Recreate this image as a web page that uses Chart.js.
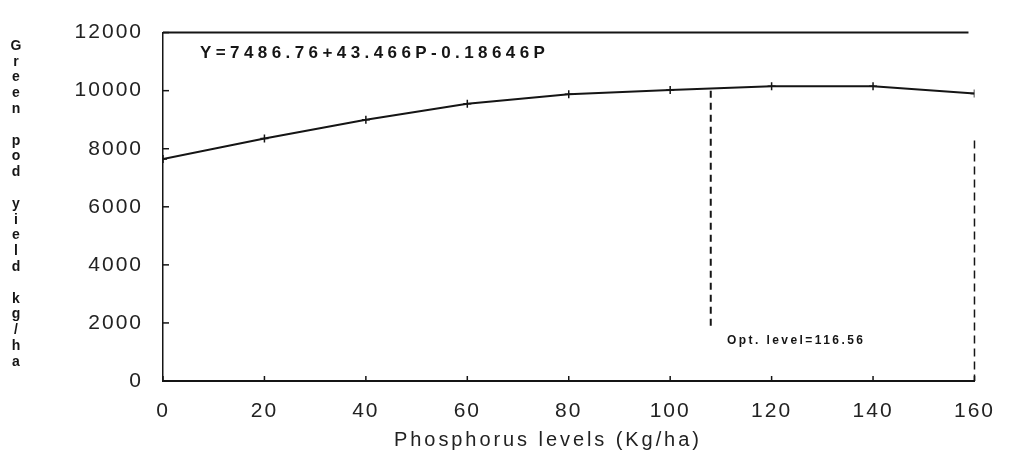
<!DOCTYPE html>
<html>
<head>
<meta charset="utf-8">
<script src="https://cdn.jsdelivr.net/npm/chart.js@4.4.1/dist/chart.umd.min.js"></script>
<style>
  html, body { margin: 0; padding: 0; background: #fff; }
  #wrap { width: 1010px; height: 457px; position: relative; }
</style>
</head>
<body>
<div id="wrap"><canvas id="c" width="1010" height="457"></canvas></div>
<script>
// ---- data ----
const phosphorusLevels = [0, 20, 40, 60, 80, 100, 120, 140, 160];
const yieldValues = [7650, 8350, 9000, 9550, 9880, 10020, 10150, 10150, 9900];
const optLineX = [108, 108];
const optLineY = [10000, 1900];
const xTickValues = [0, 20, 40, 60, 80, 100, 120, 140, 160];
const yTickValues = [0, 2000, 4000, 6000, 8000, 10000, 12000];
const equationText = 'Y=7486.76+43.466P-0.18646P';
const optText = 'Opt. level=116.56';
const xTitle = 'Phosphorus levels (Kg/ha)';
const yTitle = 'Green pod yield kg/ha';

const INK = '#151515';

const decor = {
  id: 'decor',
  beforeDraw(chart) {
    chart.ctx.letterSpacing = '2px';
  },
  afterDraw(chart) {
    const { ctx, chartArea: a, scales: { x, y } } = chart;
    ctx.save();
    ctx.letterSpacing = '0px';
    ctx.strokeStyle = INK;
    // top border
    ctx.lineWidth = 2;
    ctx.setLineDash([]);
    ctx.beginPath(); ctx.moveTo(a.left, a.top); ctx.lineTo(a.right - 6, a.top); ctx.stroke();
    // right border (dashed)
    ctx.lineWidth = 1.5;
    ctx.setLineDash([8, 5]);
    ctx.beginPath(); ctx.moveTo(a.right, a.top + 108); ctx.lineTo(a.right, a.bottom); ctx.stroke();
    ctx.setLineDash([]);
    // inward tick marks
    ctx.lineWidth = 1.5;
    yTickValues.forEach(v => {
      const py = y.getPixelForValue(v);
      ctx.beginPath(); ctx.moveTo(a.left, py); ctx.lineTo(a.left + 6, py); ctx.stroke();
    });
    xTickValues.forEach(v => {
      const px = x.getPixelForValue(v);
      ctx.beginPath(); ctx.moveTo(px, a.bottom); ctx.lineTo(px, a.bottom - 5); ctx.stroke();
    });
    ctx.fillStyle = INK;
    // equation
    ctx.font = 'bold 17px "Liberation Sans", Arial, sans-serif';
    ctx.textBaseline = 'middle';
    ctx.textAlign = 'left';
    let w = ctx.measureText(equationText).width;
    ctx.letterSpacing = Math.max(0, (345 - w) / (equationText.length - 1)).toFixed(2) + 'px';
    ctx.fillText(equationText, 200, 53);
    ctx.letterSpacing = '0px';
    // optimum text
    ctx.font = 'bold 12px "Liberation Sans", Arial, sans-serif';
    w = ctx.measureText(optText).width;
    ctx.letterSpacing = Math.max(0, (136 - w) / (optText.length - 1)).toFixed(2) + 'px';
    ctx.fillText(optText, 727, 341);
    ctx.letterSpacing = '0px';
    // x title
    ctx.font = '20px "Liberation Sans", Arial, sans-serif';
    ctx.fillStyle = '#222';
    w = ctx.measureText(xTitle).width;
    ctx.letterSpacing = Math.max(0, (305 - w) / (xTitle.length - 1)).toFixed(2) + 'px';
    ctx.textAlign = 'left';
    ctx.fillText(xTitle, 394, 440);
    ctx.letterSpacing = '0px';
    // y title stacked vertically
    ctx.font = 'bold 14px "Liberation Sans", Arial, sans-serif';
    ctx.fillStyle = INK;
    ctx.textAlign = 'center';
    const chars = Array.from(yTitle);
    chars.forEach((ch, i) => {
      if (ch !== ' ') ctx.fillText(ch, 16, 46 + i * 15.8);
    });
    ctx.restore();
  }
};

new Chart(document.getElementById('c'), {
  type: 'line',
  data: {
    datasets: [
      {
        data: phosphorusLevels.map((p, i) => ({ x: p, y: yieldValues[i] })),
        borderColor: INK,
        borderWidth: 2,
        pointStyle: 'cross',
        pointRadius: 4,
        pointBorderWidth: 1.5,
        pointBorderColor: INK,
        tension: 0,
        fill: false
      },
      {
        data: optLineX.map((p, i) => ({ x: p, y: optLineY[i] })),
        borderColor: INK,
        borderWidth: 2,
        borderDash: [7, 5],
        pointRadius: 0,
        fill: false
      }
    ]
  },
  options: {
    responsive: false,
    animation: false,
    devicePixelRatio: 1,
    layout: { padding: { top: 20, right: 32, left: 0, bottom: 0 } },
    plugins: { legend: { display: false }, tooltip: { enabled: false }, title: { display: false } },
    scales: {
      x: {
        type: 'linear',
        min: 0, max: 160,
        afterBuildTicks(s) { s.ticks = xTickValues.map(v => ({ value: v })); },
        ticks: { font: { size: 21, family: '"Liberation Sans", Arial, sans-serif' }, color: '#222', padding: 18, maxRotation: 0, autoSkip: false, callback: v => String(v) },
        grid: { display: false, drawTicks: false },
        border: { display: true, color: INK, width: 2 },
        afterFit(s) { s.height = 76; }
      },
      y: {
        min: 0, max: 12000,
        afterBuildTicks(s) { s.ticks = yTickValues.map(v => ({ value: v })); },
        ticks: { font: { size: 21, family: '"Liberation Sans", Arial, sans-serif' }, color: '#222', padding: 20, autoSkip: false, callback: v => String(v) },
        grid: { display: false, drawTicks: false },
        border: { display: true, color: INK, width: 1.5, dash: [9, 4] },
        afterFit(s) { s.width = 163; }
      }
    }
  },
  plugins: [decor]
});
</script>
</body>
</html>
